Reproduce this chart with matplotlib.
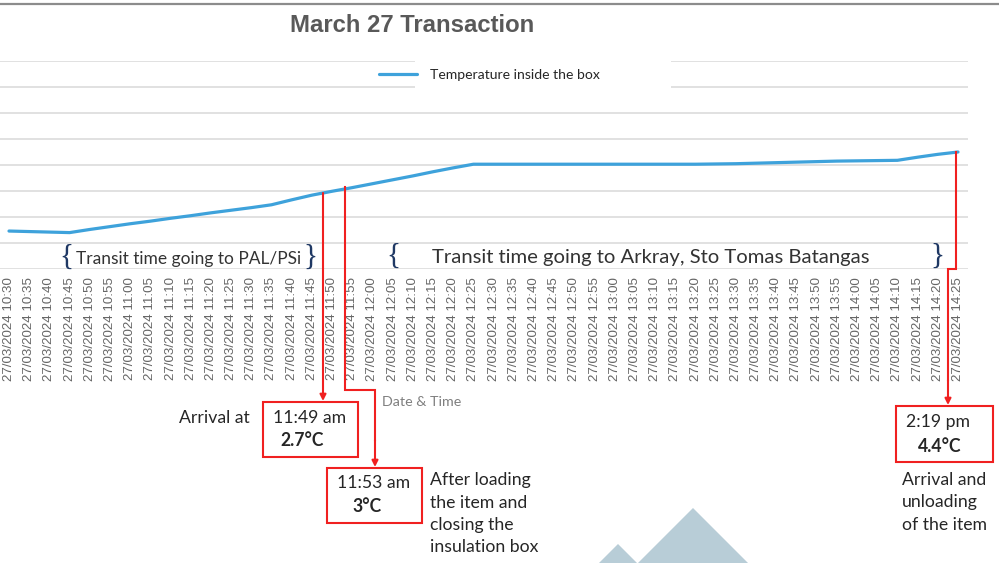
import matplotlib
matplotlib.use("Agg")
import matplotlib.pyplot as plt
import numpy as np
from matplotlib.lines import Line2D
from matplotlib.patches import Rectangle, Polygon, FancyArrowPatch

# ---------------- data ----------------
times = ["10:30", "10:35", "10:40", "10:45", "10:50", "10:55", "11:00", "11:05",
         "11:10", "11:15", "11:20", "11:25", "11:30", "11:35", "11:40", "11:45",
         "11:50", "11:55", "12:00", "12:05", "12:10", "12:15", "12:20", "12:25",
         "12:30", "12:35", "12:40", "12:45", "12:50", "12:55", "13:00", "13:05",
         "13:10", "13:15", "13:20", "13:25", "13:30", "13:35", "13:40", "13:45",
         "13:50", "13:55", "14:00", "14:05", "14:10", "14:15", "14:20", "14:25"]
tick_labels = ["27/03/2024 " + t for t in times]
temperature = [1.46, 1.44, 1.42, 1.40, 1.52, 1.63, 1.74, 1.84,
               1.95, 2.05, 2.16, 2.26, 2.36, 2.47, 2.66, 2.84,
               2.99, 3.13, 3.28, 3.43, 3.58, 3.74, 3.89, 4.03,
               4.03, 4.03, 4.03, 4.03, 4.03, 4.03, 4.03, 4.03,
               4.03, 4.03, 4.03, 4.04, 4.05, 4.07, 4.09, 4.11,
               4.13, 4.15, 4.16, 4.17, 4.18, 4.30, 4.41, 4.50]
series_name = "Temperature inside the box"

W, H = 999, 563
fig = plt.figure(figsize=(W / 100, H / 100), dpi=100)
fig.patch.set_facecolor("white")

def P(x, y):
    return (x / W, 1 - y / H)

# axes: category i at pixel 9 + 20.19*i ; y=0 at 269, y=8 at 61
step = (958 - 9) / 47
left_px = 9 - step / 2
right_px = 958 + step / 2
ax = fig.add_axes([left_px / W, 1 - 269 / H, (right_px - left_px) / W, 208 / H])
x = np.arange(len(times))
ax.set_xlim(-0.5, len(times) - 0.5)
ax.set_ylim(0, 8)
ax.set_yticks(np.arange(0, 9, 1))
ax.yaxis.grid(True, color="#D9D9D9", linewidth=1.1)
ax.set_axisbelow(True)
for s in ax.spines.values():
    s.set_visible(False)
ax.tick_params(axis="y", left=False, labelleft=False)
ax.set_xticks(x)
ax.set_xticklabels(tick_labels, rotation=90, fontsize=9.6, color="#666666",
                   family="Liberation Sans")
ax.tick_params(axis="x", length=0, pad=6)

line, = ax.plot(x, temperature, color="#3EA2DB", linewidth=2.3, label=series_name,
                solid_capstyle="round", zorder=3)

# legend area (white box covering gridlines), below legend but above grid
ax.add_patch(Rectangle(P(415, 95), (671 - 415) / W, 40 / H, transform=fig.transFigure,
                       facecolor="white", edgecolor="none", zorder=1.5, clip_on=False))
leg = ax.legend(handles=[line], loc="center left", bbox_to_anchor=P(366, 75),
                bbox_transform=fig.transFigure, frameon=False,
                handlelength=2.7, handletextpad=0.95, prop={"family": "Lato", "size": 10.1})
for tx in leg.get_texts():
    tx.set_color("#262626")

# title
fig.text(412 / W, 1 - 25 / H, "March 27 Transaction", ha="center", va="center",
         fontsize=17.2, fontweight="bold", color="#595959", family="Liberation Sans")

# axis title
fig.text(422 / W, 1 - 402 / H, "Date & Time", ha="center", va="center",
         fontsize=10.3, color="#7F7F7F", family="Lato")

# top border
fig.add_artist(Line2D([0, 1], [1 - 3.5 / H] * 2, transform=fig.transFigure,
                      color="#8C8C8C", linewidth=1.6))

# transit braces and labels
navy = "#1F3864"
txtc = "#333333"
def brace(xp, yp, ch):
    fig.text(xp / W, 1 - yp / H, ch, ha="center", va="center", fontsize=21, color=navy,
             family="Liberation Serif")

brace(66, 257, "{")
brace(310, 257, "}")
brace(393, 256, "{")
brace(937, 256, "}")
fig.text(189 / W, 1 - 259 / H, "Transit time going to PAL/PSi", ha="center", va="center",
         fontsize=12.5, color=txtc, family="Lato")
fig.text(651 / W, 1 - 258 / H, "Transit time going to Arkray, Sto Tomas Batangas",
         ha="center", va="center", fontsize=14.6, color=txtc, family="Lato")

# red connectors
red = "#F02020"
lw = 1.5

def seg(pts):
    xs = [p[0] / W for p in pts]
    ys = [1 - p[1] / H for p in pts]
    fig.add_artist(Line2D(xs, ys, transform=fig.transFigure, color=red, linewidth=lw,
                          solid_joinstyle="miter"))

def arrow(p0, p1):
    fig.add_artist(FancyArrowPatch(P(*p0), P(*p1), transform=fig.transFigure,
                                   arrowstyle="-|>", mutation_scale=9, color=red,
                                   linewidth=lw, shrinkA=0, shrinkB=0))

arrow((323, 193), (323, 401))
seg([(345, 187), (345, 390), (375, 390), (375, 440)])
arrow((375, 440), (375, 467))
seg([(956, 152), (956, 269), (948, 269), (948, 380)])
arrow((948, 380), (948, 405))

def box(x0, y0, x1, y1):
    fig.add_artist(Rectangle(P(x0, y1), (x1 - x0) / W, (y1 - y0) / H,
                             transform=fig.transFigure, facecolor="white",
                             edgecolor=red, linewidth=1.5))

box(263, 402, 358, 457)
box(327, 468, 422, 523)
box(896, 406, 993, 462)

dark = "#262626"
def t(xp, yp, s, ha="center", bold=False, size=12.7):
    fig.text(xp / W, 1 - yp / H, s, ha=ha, va="center", fontsize=size, color=dark,
             family="Lato", fontweight="bold" if bold else "normal")

t(310, 418, "11:49 am")
t(302, 441, "2.7°C", bold=True)
t(374, 483, "11:53 am")
t(367, 507, "3°C", bold=True)
t(938, 422, "2:19 pm")
t(940, 446, "4.4°C", bold=True)
t(179, 418, "Arrival at", ha="left")
for i, s in enumerate(["After loading", "the item and", "closing the", "insulation box"]):
    t(430, 480 + 22.5 * i, s, ha="left")
for i, s in enumerate(["Arrival and", "unloading", "of the item"]):
    t(902, 480 + 22.5 * i, s, ha="left")

# decorative mountains
mcol = "#B8CDD7"
fig.add_artist(Polygon([P(599, 563), P(618, 544), P(637, 563)], closed=True,
                       transform=fig.transFigure, facecolor=mcol, edgecolor="none"))
fig.add_artist(Polygon([P(638, 563), P(693, 508), P(748, 563)], closed=True,
                       transform=fig.transFigure, facecolor=mcol, edgecolor="none"))

fig.savefig("out.png", dpi=100, facecolor="white")
